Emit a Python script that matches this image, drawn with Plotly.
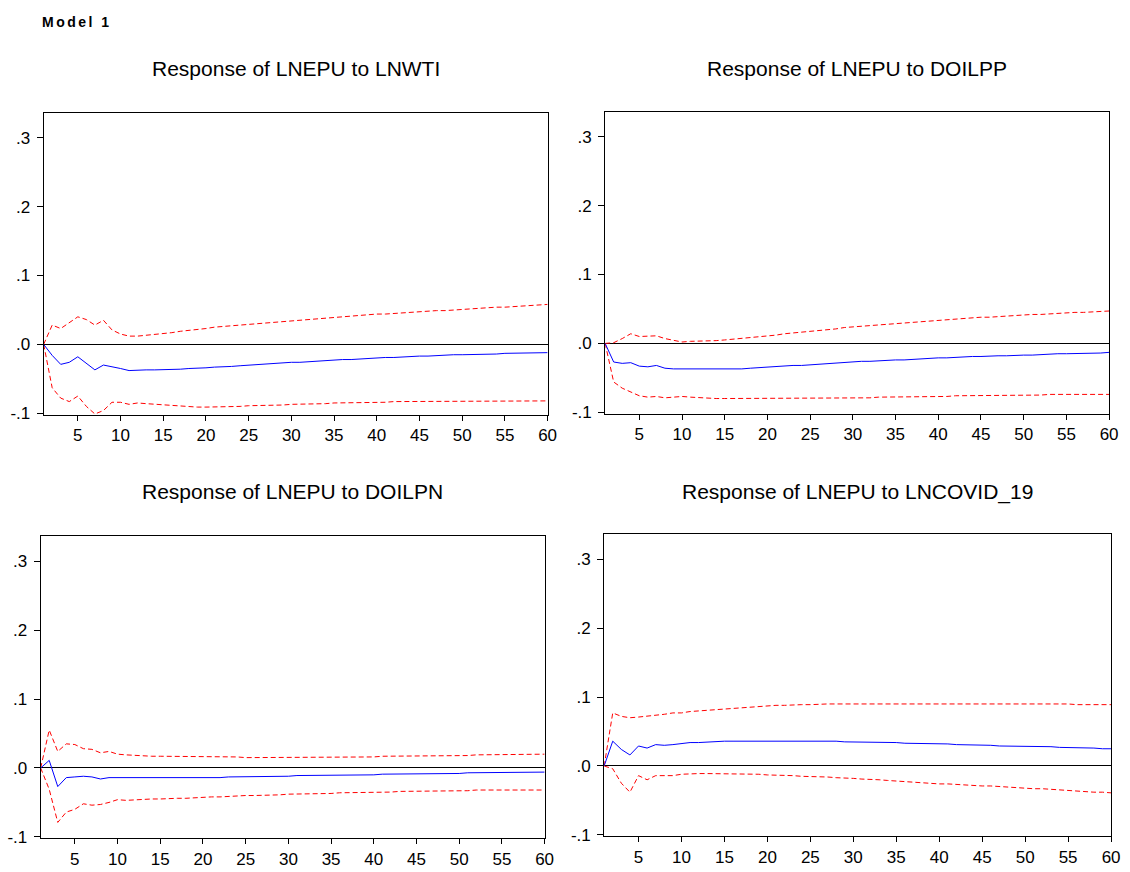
import plotly.graph_objects as go

W, H = 1130, 872

periods = list(range(1, 61))

titles = [
    "Response of LNEPU to LNWTI",
    "Response of LNEPU to DOILPP",
    "Response of LNEPU to DOILPN",
    "Response of LNEPU to LNCOVID_19",
]

# Panel 1: LNWTI
wti_resp = [0.000, -0.016, -0.029, -0.026, -0.018, -0.027, -0.037, -0.030, -0.032, -0.035,
            -0.038, -0.037, -0.037, -0.037, -0.037, -0.036, -0.036, -0.035, -0.035, -0.034,
            -0.033, -0.033, -0.032, -0.031, -0.030, -0.029, -0.029, -0.028, -0.027, -0.026,
            -0.026, -0.025, -0.024, -0.024, -0.023, -0.022, -0.022, -0.021, -0.021, -0.020,
            -0.019, -0.019, -0.018, -0.018, -0.017, -0.017, -0.016, -0.016, -0.015, -0.015,
            -0.015, -0.014, -0.014, -0.014, -0.013, -0.013, -0.013, -0.012, -0.012, -0.012]
wti_upper = [0.000, 0.028, 0.023, 0.031, 0.040, 0.036, 0.028, 0.035, 0.021, 0.015,
             0.012, 0.012, 0.013, 0.014, 0.015, 0.017, 0.019, 0.020, 0.022, 0.023,
             0.025, 0.026, 0.027, 0.028, 0.030, 0.031, 0.032, 0.033, 0.034, 0.035,
             0.036, 0.037, 0.038, 0.039, 0.040, 0.040, 0.041, 0.042, 0.043, 0.044,
             0.044, 0.045, 0.046, 0.047, 0.047, 0.048, 0.049, 0.049, 0.050, 0.051,
             0.051, 0.052, 0.053, 0.054, 0.054, 0.055, 0.056, 0.056, 0.057, 0.058]
wti_lower = [0.000, -0.063, -0.078, -0.083, -0.075, -0.090, -0.101, -0.096, -0.084, -0.084,
             -0.087, -0.085, -0.086, -0.087, -0.088, -0.089, -0.090, -0.090, -0.091, -0.091,
             -0.091, -0.090, -0.090, -0.090, -0.089, -0.089, -0.089, -0.088, -0.088, -0.087,
             -0.087, -0.087, -0.086, -0.086, -0.085, -0.085, -0.085, -0.084, -0.084, -0.084,
             -0.084, -0.083, -0.083, -0.083, -0.083, -0.083, -0.082, -0.082, -0.082, -0.082,
             -0.082, -0.082, -0.082, -0.082, -0.082, -0.082, -0.082, -0.082, -0.082, -0.082]

# Panel 2: DOILPP
pp_resp = [0.000, -0.027, -0.029, -0.028, -0.033, -0.034, -0.032, -0.036, -0.037, -0.037,
           -0.037, -0.038, -0.038, -0.038, -0.038, -0.038, -0.037, -0.036, -0.035, -0.034,
           -0.034, -0.033, -0.032, -0.032, -0.031, -0.030, -0.029, -0.028, -0.028, -0.027,
           -0.026, -0.026, -0.025, -0.025, -0.024, -0.024, -0.023, -0.022, -0.022, -0.021,
           -0.021, -0.020, -0.020, -0.019, -0.019, -0.018, -0.018, -0.018, -0.017, -0.017,
           -0.017, -0.016, -0.016, -0.015, -0.015, -0.015, -0.014, -0.014, -0.014, -0.013]
pp_upper = [0.000, 0.001, 0.007, 0.014, 0.010, 0.010, 0.011, 0.007, 0.004, 0.002,
            0.003, 0.003, 0.003, 0.004, 0.005, 0.006, 0.007, 0.008, 0.010, 0.011,
            0.012, 0.014, 0.015, 0.016, 0.018, 0.019, 0.020, 0.021, 0.023, 0.024,
            0.025, 0.026, 0.027, 0.028, 0.029, 0.030, 0.031, 0.032, 0.033, 0.034,
            0.034, 0.035, 0.036, 0.037, 0.038, 0.038, 0.039, 0.040, 0.040, 0.041,
            0.042, 0.042, 0.043, 0.043, 0.044, 0.045, 0.045, 0.046, 0.046, 0.047]
pp_lower = [0.000, -0.056, -0.065, -0.070, -0.076, -0.078, -0.077, -0.079, -0.078, -0.077,
            -0.078, -0.079, -0.079, -0.080, -0.080, -0.080, -0.080, -0.080, -0.080, -0.080,
            -0.080, -0.080, -0.080, -0.080, -0.080, -0.080, -0.080, -0.079, -0.079, -0.079,
            -0.079, -0.079, -0.078, -0.078, -0.078, -0.078, -0.077, -0.077, -0.077, -0.077,
            -0.077, -0.076, -0.076, -0.076, -0.076, -0.076, -0.075, -0.075, -0.075, -0.075,
            -0.075, -0.075, -0.074, -0.074, -0.074, -0.074, -0.074, -0.074, -0.074, -0.074]

# Panel 3: DOILPN
pn_resp = [0.000, 0.011, -0.027, -0.014, -0.013, -0.012, -0.013, -0.016, -0.014, -0.014,
           -0.015, -0.014, -0.015, -0.015, -0.015, -0.015, -0.015, -0.014, -0.014, -0.014,
           -0.014, -0.014, -0.013, -0.013, -0.013, -0.013, -0.012, -0.012, -0.012, -0.012,
           -0.011, -0.011, -0.011, -0.011, -0.011, -0.010, -0.010, -0.010, -0.010, -0.010,
           -0.009, -0.009, -0.009, -0.009, -0.009, -0.008, -0.008, -0.008, -0.008, -0.008,
           -0.007, -0.007, -0.007, -0.007, -0.007, -0.006, -0.006, -0.006, -0.006, -0.006]
pn_upper = [0.000, 0.055, 0.024, 0.035, 0.034, 0.028, 0.027, 0.022, 0.024, 0.020,
            0.019, 0.018, 0.018, 0.017, 0.017, 0.017, 0.017, 0.016, 0.016, 0.016,
            0.016, 0.016, 0.016, 0.016, 0.015, 0.015, 0.015, 0.015, 0.015, 0.015,
            0.015, 0.016, 0.016, 0.016, 0.016, 0.016, 0.016, 0.016, 0.016, 0.016,
            0.017, 0.017, 0.017, 0.017, 0.017, 0.018, 0.018, 0.018, 0.018, 0.018,
            0.018, 0.019, 0.019, 0.019, 0.019, 0.019, 0.020, 0.020, 0.020, 0.020]
pn_lower = [0.000, -0.031, -0.079, -0.064, -0.060, -0.052, -0.054, -0.053, -0.050, -0.046,
            -0.047, -0.046, -0.045, -0.045, -0.045, -0.044, -0.044, -0.044, -0.043, -0.043,
            -0.042, -0.042, -0.041, -0.041, -0.040, -0.040, -0.040, -0.039, -0.039, -0.038,
            -0.038, -0.038, -0.037, -0.037, -0.037, -0.036, -0.036, -0.036, -0.035, -0.035,
            -0.035, -0.035, -0.034, -0.034, -0.034, -0.034, -0.033, -0.033, -0.033, -0.033,
            -0.033, -0.032, -0.032, -0.032, -0.032, -0.032, -0.032, -0.032, -0.032, -0.032]

# Panel 4: LNCOVID_19
cv_resp = [0.000, 0.036, 0.024, 0.016, 0.029, 0.026, 0.031, 0.030, 0.031, 0.033,
           0.034, 0.034, 0.035, 0.035, 0.036, 0.036, 0.036, 0.037, 0.037, 0.037,
           0.037, 0.037, 0.037, 0.037, 0.036, 0.036, 0.036, 0.036, 0.035, 0.035,
           0.035, 0.035, 0.034, 0.034, 0.034, 0.033, 0.033, 0.033, 0.032, 0.032,
           0.032, 0.031, 0.031, 0.030, 0.030, 0.030, 0.029, 0.029, 0.029, 0.029,
           0.028, 0.028, 0.028, 0.027, 0.027, 0.026, 0.026, 0.026, 0.025, 0.025]
cv_upper = [0.000, 0.077, 0.072, 0.070, 0.071, 0.072, 0.074, 0.075, 0.077, 0.077,
            0.079, 0.080, 0.081, 0.082, 0.083, 0.084, 0.085, 0.086, 0.087, 0.087,
            0.088, 0.088, 0.089, 0.089, 0.089, 0.090, 0.090, 0.090, 0.090, 0.090,
            0.091, 0.091, 0.091, 0.091, 0.091, 0.091, 0.091, 0.091, 0.091, 0.091,
            0.091, 0.091, 0.091, 0.091, 0.091, 0.090, 0.090, 0.090, 0.090, 0.090,
            0.090, 0.090, 0.090, 0.090, 0.090, 0.089, 0.089, 0.089, 0.089, 0.089]
cv_lower = [0.000, -0.004, -0.025, -0.038, -0.014, -0.020, -0.014, -0.014, -0.014, -0.012,
            -0.011, -0.011, -0.011, -0.011, -0.011, -0.011, -0.012, -0.012, -0.012, -0.013,
            -0.013, -0.014, -0.014, -0.015, -0.015, -0.016, -0.016, -0.017, -0.017, -0.018,
            -0.019, -0.019, -0.020, -0.021, -0.022, -0.022, -0.023, -0.024, -0.025, -0.026,
            -0.026, -0.027, -0.027, -0.028, -0.029, -0.029, -0.030, -0.031, -0.031, -0.032,
            -0.033, -0.033, -0.034, -0.035, -0.036, -0.036, -0.037, -0.038, -0.038, -0.039]

y_tickvals = [-0.1, 0.0, 0.1, 0.2, 0.3]
y_ticktext = ["-.1", ".0", ".1", ".2", ".3"]
x_tickvals = [5, 10, 15, 20, 25, 30, 35, 40, 45, 50, 55, 60]

panels = [
    (wti_resp, wti_upper, wti_lower),
    (pp_resp, pp_upper, pp_lower),
    (pn_resp, pn_upper, pn_lower),
    (cv_resp, cv_upper, cv_lower),
]

# pixel boxes: left, right, top, bottom
boxes = [
    (44, 552, 114, 419),
    (610, 1118, 113, 418),
    (41, 549, 542, 847),
    (609, 1120, 540, 845),
]
title_y = [69, 69, 497, 497]


def px(xp):
    return xp / W


def py(yp):
    return 1 - yp / H


FONT = "Liberation Sans, Arial, sans-serif"

fig = go.Figure()
layout = dict(
    width=W, height=H,
    margin=dict(l=0, r=0, t=0, b=0),
    paper_bgcolor="white", plot_bgcolor="white",
    showlegend=False,
    font=dict(family=FONT, color="black"),
)
annotations = []
for i, ((resp, up, lo), (l, r, t, b)) in enumerate(zip(panels, boxes)):
    n = i + 1
    xa = "x" if n == 1 else f"x{n}"
    ya = "y" if n == 1 else f"y{n}"
    fig.add_trace(go.Scatter(x=periods, y=up, mode="lines", xaxis=xa, yaxis=ya,
                             line=dict(color="#ff0000", width=1, dash="5px,3px")))
    fig.add_trace(go.Scatter(x=periods, y=lo, mode="lines", xaxis=xa, yaxis=ya,
                             line=dict(color="#ff0000", width=1, dash="5px,3px")))
    fig.add_trace(go.Scatter(x=periods, y=resp, mode="lines", xaxis=xa, yaxis=ya,
                             line=dict(color="#0000ff", width=1)))
    xkey = "xaxis" if n == 1 else f"xaxis{n}"
    ykey = "yaxis" if n == 1 else f"yaxis{n}"
    layout[xkey] = dict(
        domain=[px(l), px(r)], anchor=ya, range=[1, 60],
        tickvals=x_tickvals, ticks="outside", ticklen=5, tickcolor="black",
        showline=True, linecolor="black", linewidth=1, mirror=True,
        showgrid=False, zeroline=False,
        tickfont=dict(family=FONT, size=17, color="black"),
    )
    layout[ykey] = dict(
        domain=[py(b), py(t)], anchor=xa, range=[-0.102, 0.336],
        tickvals=y_tickvals, ticktext=y_ticktext, ticks="outside", ticklen=6,
        tickcolor="black", ticklabelstandoff=3,
        showline=True, linecolor="black", linewidth=1, mirror=True,
        showgrid=False, zeroline=True, zerolinecolor="black", zerolinewidth=1,
        tickfont=dict(family=FONT, size=17, color="black"),
    )
    annotations.append(dict(
        text=titles[i], xref="paper", yref="paper",
        x=px((l + r) / 2), y=py(title_y[i]),
        xanchor="center", yanchor="middle", showarrow=False,
        font=dict(family=FONT, size=21, color="black"),
    ))

annotations.append(dict(
    text='<span style="letter-spacing:2.5px"><b>Model 1</b></span>',
    xref="paper", yref="paper",
    x=px(40), y=py(22), xanchor="left", yanchor="middle", showarrow=False,
    font=dict(family=FONT, size=14, color="black"),
))
layout["annotations"] = annotations
fig.update_layout(**layout)
fig.write_html(
    "out.html",
    config={"displayModeBar": False},
    post_script=(
        "document.body.style.margin='0px';"
        "document.body.style.overflow='hidden';"
        "document.documentElement.style.overflow='hidden';"
    ),
)
